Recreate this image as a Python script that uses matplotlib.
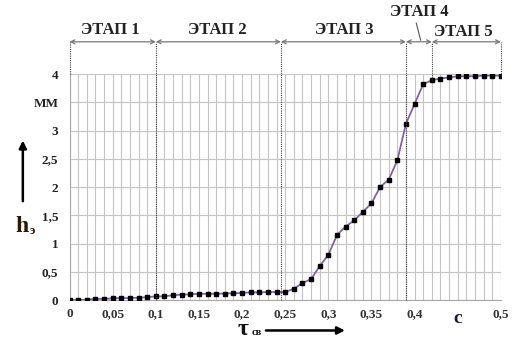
import matplotlib
matplotlib.use("Agg")
import matplotlib.pyplot as plt
import numpy as np

tau = [round(0.01 * i, 2) for i in range(51)]
h = [0.0, 0.0, 0.005, 0.02, 0.02, 0.03, 0.035, 0.035, 0.04, 0.05,
     0.065, 0.065, 0.085, 0.095, 0.10, 0.11, 0.11, 0.11, 0.115, 0.12,
     0.125, 0.135, 0.135, 0.14, 0.14, 0.14, 0.20, 0.30, 0.37, 0.60,
     0.80, 1.15, 1.30, 1.41, 1.56, 1.71, 2.00, 2.13, 2.47, 3.12,
     3.47, 3.82, 3.89, 3.92, 3.94, 3.96, 3.96, 3.96, 3.97, 3.97, 3.97]

xticks = [0, 0.05, 0.1, 0.15, 0.2, 0.25, 0.3, 0.35, 0.4, 0.45, 0.5]
xticklabels = ["0", "0,05", "0,1", "0,15", "0,2", "0,25", "0,3", "0,35", "0,4", "", "0,5"]
yticks = [0, 0.5, 1, 1.5, 2, 2.5, 3, 3.5, 4]
yticklabels = ["0", "0,5", "1", "1,5", "2", "2,5", "3", "ММ", "4"]

stage_bounds = [0.0, 0.1, 0.245, 0.39, 0.42, 0.5]
stage_names = ["ЭТАП 1", "ЭТАП 2", "ЭТАП 3", "ЭТАП 4", "ЭТАП 5"]

serif = ["Liberation Serif", "DejaVu Serif"]

fig = plt.figure(figsize=(5.19, 3.40), dpi=100)
ax = fig.add_axes([0.134, 0.1176, 0.831, 0.6647])
ax.set_xlim(0, 0.5)
ax.set_ylim(0, 4)

# grid
ax.set_xticks(np.arange(0, 0.5001, 0.01), minor=True)
ax.grid(True, which="minor", axis="x", color="#c4c4c4", lw=0.8)
ax.grid(True, which="major", axis="x", color="#c4c4c4", lw=0.8)
ax.grid(True, which="major", axis="y", color="#c4c4c4", lw=0.8)
ax.set_axisbelow(True)
for s in ["top", "right"]:
    ax.spines[s].set_visible(False)
for s in ["left", "bottom"]:
    ax.spines[s].set_color("#a8a8a8")

ax.set_xticks(xticks)
ax.set_xticklabels(xticklabels, fontfamily=serif, fontweight="bold", fontsize=9.5, color="#333333")
ax.set_yticks(yticks)
ax.set_yticklabels(yticklabels, fontfamily=serif, fontweight="bold", fontsize=9.5, color="#222222")
ax.tick_params(axis="both", which="both", length=0)
ax.tick_params(axis="y", pad=8)
ax.tick_params(axis="x", pad=6)

ax.plot(tau, h, color="#8064A2", lw=1.3, marker="s", ms=3.2, mfc="black", mec="black", zorder=3)

# stage boundary dotted lines
arrow_y = 4.57
top_vals = {0.0: 4.0, 0.42: 3.89, 0.5: 3.97}
for b in stage_bounds:
    y0 = top_vals.get(b, 0.0)
    ax.plot([b, b], [y0, arrow_y], color="#444444", lw=0.8, ls=(0, (1, 1)), clip_on=False, zorder=4)

for i in range(len(stage_bounds) - 1):
    a, b = stage_bounds[i], stage_bounds[i + 1]
    ax.annotate("", xy=(a, arrow_y), xytext=(b, arrow_y), xycoords="data",
                arrowprops=dict(arrowstyle="<->", color="#777777", lw=0.9,
                                shrinkA=0, shrinkB=0, mutation_scale=7),
                annotation_clip=False)

label_pos = [(0.047, 4.78), (0.171, 4.78), (0.319, 4.78), (0.405, 5.10), (0.456, 4.74)]
for name, (x, y) in zip(stage_names, label_pos):
    ax.text(x, y, name, ha="center", va="center", fontfamily=serif, fontweight="bold",
            fontsize=12, color="#222222", clip_on=False)
ax.plot([0.402, 0.407], [4.9, 4.6], color="#555555", lw=0.8, clip_on=False)

# unit label c
ax.text(0.45, -0.33, "с", ha="center", va="center", fontfamily=serif, fontweight="bold",
        fontsize=14, color="#1a1a3a", clip_on=False)

# axis labels with arrows
fig.text(0.042, 0.335, "h", fontfamily=serif, fontweight="bold", fontsize=17, color="#2a1a00",
         ha="center", va="center")
fig.text(0.062, 0.322, "э", fontfamily=serif, fontweight="bold", fontsize=9, color="#2a1a00",
         ha="center", va="center")
fig.add_artist(matplotlib.patches.FancyArrowPatch((0.044, 0.40), (0.044, 0.595),
               transform=fig.transFigure, arrowstyle="-|>", mutation_scale=11, color="black", lw=1.8))

fig.text(0.468, 0.03, "τ", fontfamily=serif, fontweight="bold", fontsize=17, color="#111111",
         ha="center", va="center")
fig.text(0.494, 0.022, "св", fontfamily=serif, fontweight="bold", fontsize=7.5, color="#111111",
         ha="center", va="center")
fig.add_artist(matplotlib.patches.FancyArrowPatch((0.507, 0.028), (0.67, 0.028),
               transform=fig.transFigure, arrowstyle="-|>", mutation_scale=11, color="black", lw=1.8))

fig.savefig("out.png", dpi=100)
